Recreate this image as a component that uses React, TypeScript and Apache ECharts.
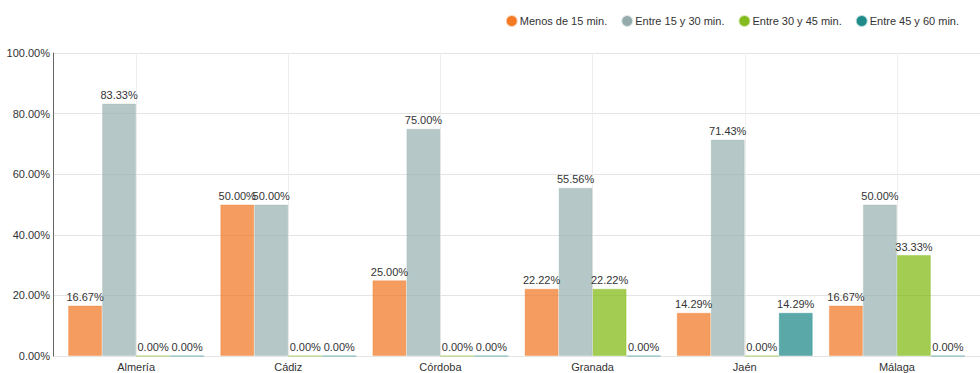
import React, { useEffect, useRef } from "react";
import * as echarts from "echarts";

const categories = ["Almería", "Cádiz", "Córdoba", "Granada", "Jaén", "Málaga"];
const seriesNames = ["Menos de 15 min.", "Entre 15 y 30 min.", "Entre 30 y 45 min.", "Entre 45 y 60 min."];
const menos15 = [16.67, 50.0, 25.0, 22.22, 14.29, 16.67];
const entre15y30 = [83.33, 50.0, 75.0, 55.56, 71.43, 50.0];
const entre30y45 = [0, 0, 0, 22.22, 0, 33.33];
const entre45y60 = [0, 0, 0, 0, 14.29, 0];
const yTicks = [0, 20, 40, 60, 80, 100];

const baseColors = ["241,116,28", "149,175,174", "124,182,8", "20,131,131"];
const legendColors = ["#F47A24", "#95ABAB", "#84BB1E", "#1E8A8A"];
const FONT = "Liberation Sans, Arial, sans-serif";

export default function App() {
  const ref = useRef<HTMLDivElement>(null);
  useEffect(() => {
    if (!ref.current) return;
    const chart = echarts.init(ref.current, undefined, { renderer: "svg" });
    const allData = [menos15, entre15y30, entre30y45, entre45y60];
    const series = allData.map((d, i) => ({
      name: seriesNames[i],
      type: "bar",
      xAxisIndex: 1,
      yAxisIndex: 1,
      data: d,
      barWidth: 34,
      barGap: "0%",
      itemStyle: {
        color: `rgba(${baseColors[i]},0.7)`,
        borderColor: `rgba(${baseColors[i]},0.3)`,
        borderWidth: 1,
      },
      label: {
        show: true,
        position: "top",
        distance: 3,
        color: "#333",
        fontSize: 11,
        fontFamily: FONT,
        formatter: (p: any) => `${Number(p.value).toFixed(2)}%`,
      },
    }));
    chart.setOption({
      animation: false,
      color: legendColors,
      textStyle: { fontFamily: FONT },
      legend: {
        right: 16,
        top: 10,
        icon: "circle",
        itemWidth: 10,
        itemHeight: 10,
        itemGap: 14,
        textStyle: { fontSize: 11, color: "#333", fontFamily: FONT, padding: [0, 0, 0, -2] },
        data: seriesNames.map((n, i) => ({ name: n, itemStyle: { color: legendColors[i], opacity: 1 } })),
      },
      grid: [
        { left: 53, right: 0, top: 53, bottom: 17 },
        { left: 60, right: 7, top: 53, bottom: 17 },
      ],
      xAxis: [
        { type: "category", gridIndex: 0, data: categories, show: false },
        {
          type: "category",
          gridIndex: 1,
          data: categories,
          axisLine: { show: false },
          axisTick: { show: false },
          axisLabel: { color: "#333", fontSize: 11, fontFamily: FONT, margin: 5 },
          splitLine: { show: true, alignWithLabel: true, lineStyle: { color: "#eeeeee", width: 1 } },
        },
      ],
      yAxis: [
        {
          type: "value",
          gridIndex: 0,
          min: yTicks[0],
          max: yTicks[yTicks.length - 1],
          interval: 20,
          axisLine: { show: true, lineStyle: { color: "#666", width: 1 } },
          axisTick: { show: false },
          axisLabel: {
            color: "#333",
            fontSize: 11,
            fontFamily: FONT,
            margin: 3,
            formatter: (v: number) => `${v.toFixed(2)}%`,
          },
          splitLine: { show: true, lineStyle: { color: "#e4e4e4", width: 1 } },
        },
        {
          type: "value",
          gridIndex: 1,
          min: yTicks[0],
          max: yTicks[yTicks.length - 1],
          interval: 20,
          show: false,
          splitLine: { show: false },
        },
      ],
      series,
    });
    return () => chart.dispose();
  }, []);
  return <div ref={ref} style={{ width: 980, height: 373, position: "absolute", left: 0, top: 0 }} />;
}
